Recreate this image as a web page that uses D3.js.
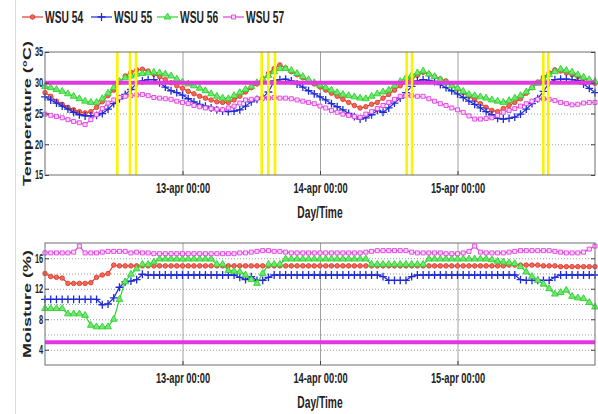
<!DOCTYPE html>
<html>
<head>
<meta charset="utf-8">
<script src="https://cdn.jsdelivr.net/npm/d3@7"></script>
<style>
  html, body { margin: 0; padding: 0; background: #fff; }
  svg { display: block; font-family: "Liberation Sans", Arial, sans-serif; font-weight: bold; }
</style>
</head>
<body>
<div id="app"></div>
<script>
// --- data (hourly readings, 12-apr 00:00 .. 16-apr 00:00) ---
const startTime = new Date(2014, 3, 12, 0, 0)
const endTime = new Date(2014, 3, 16, 0, 0)
const sensorNames = ['WSU 54', 'WSU 55', 'WSU 56', 'WSU 57']

const tempWsu54 = [
  28.4, 27.8, 27.0, 26.5, 26.0, 25.6, 25.3, 25.1, 25.3, 26.0, 26.9, 27.9,
  28.8, 30.1, 31.1, 31.7, 32.1, 32.2, 31.9, 31.4, 31.0, 30.5, 30.0, 29.5,
  29.1, 28.6, 28.2, 27.8, 27.5, 27.2, 26.9, 26.8, 26.8, 27.2, 27.8, 28.5,
  29.2, 29.8, 30.6, 31.5, 32.3, 32.9, 32.4, 31.8, 31.3, 30.8, 30.3, 29.8,
  29.3, 28.8, 28.3, 27.8, 27.3, 26.8, 26.3, 25.9, 26.1, 26.5, 26.8, 27.5,
  28.1, 28.8, 29.5, 30.1, 30.7, 31.2, 31.7, 31.4, 31.0, 30.6, 30.3, 29.7,
  29.0, 28.4, 27.8, 27.2, 26.6, 26.0, 25.5, 25.3, 25.8, 26.3, 26.8, 27.4,
  28.3, 29.2, 30.1, 30.9, 31.6, 32.1, 31.9, 31.6, 31.3, 31.0, 30.7, 30.3,
  29.9
]
const tempWsu55 = [
  27.7, 27.2, 26.7, 26.2, 25.7, 25.2, 24.8, 24.6, 24.6, 24.7, 25.0, 25.7,
  26.6, 27.4, 28.1, 28.9, 29.9, 30.3, 30.5, 30.5, 30.0, 29.3, 28.7, 28.4,
  28.0, 27.4, 26.9, 26.5, 26.2, 25.9, 25.6, 25.4, 25.3, 25.4, 25.6, 26.2,
  26.9, 27.3, 27.6, 28.5, 30.3, 30.5, 30.6, 30.3, 29.8, 29.3, 28.7, 28.2,
  27.7, 27.2, 26.6, 26.1, 25.6, 25.0, 24.5, 24.1, 24.3, 24.8, 25.5, 25.2,
  25.9, 26.7, 27.5, 28.4, 29.4, 30.3, 30.5, 30.4, 30.2, 29.7, 29.2, 28.7,
  28.2, 27.6, 27.0, 26.5, 25.9, 25.3, 24.8, 24.2, 24.1, 24.2, 24.4, 24.9,
  25.7, 26.6, 27.4, 28.6, 30.0, 30.5, 30.6, 30.6, 30.5, 30.4, 29.8, 29.1,
  28.4
]
const tempWsu56 = [
  29.4, 29.2, 28.9, 28.6, 28.2, 27.8, 27.4, 27.0, 26.8, 26.8, 27.4, 28.3,
  29.2, 30.2, 30.8, 31.1, 31.4, 31.5, 31.6, 31.7, 31.6, 31.4, 31.1, 30.6,
  30.1, 29.8, 29.5, 29.1, 28.7, 28.2, 27.8, 27.5, 27.4, 27.9, 28.4, 28.9,
  29.4, 30.0, 30.6, 31.2, 31.8, 32.3, 32.3, 32.0, 31.5, 31.0, 30.5, 30.0,
  29.6, 29.2, 28.8, 28.4, 28.1, 27.9, 27.7, 27.5, 27.4, 27.8, 28.2, 28.5,
  28.8, 29.5, 30.2, 30.8, 31.2, 31.6, 31.9, 31.4, 31.0, 30.5, 30.0, 29.5,
  29.1, 28.6, 28.1, 27.9, 27.7, 27.5, 27.2, 27.0, 26.8, 27.1, 27.5, 27.9,
  28.5, 29.2, 29.9, 30.6, 31.3, 31.8, 32.2, 32.0, 31.7, 31.3, 30.9, 30.5,
  30.2
]
const tempWsu57 = [
  24.9, 24.7, 24.5, 24.3, 24.0, 23.7, 23.5, 23.2, 24.0, 24.8, 25.8, 26.7,
  27.2, 27.6, 27.8, 27.9, 28.0, 28.1, 27.9, 27.6, 27.5, 27.4, 27.3, 27.0,
  26.8, 26.6, 26.3, 26.1, 25.9, 25.8, 25.7, 25.6, 25.9, 26.2, 26.7, 27.2,
  27.3, 27.4, 27.5, 27.5, 27.6, 27.5, 27.5, 27.4, 27.2, 27.0, 26.8, 26.6,
  26.2, 25.9, 25.5, 25.2, 24.9, 24.7, 24.5, 24.4, 24.9, 25.3, 25.8, 26.3,
  26.8, 27.3, 27.8, 27.9, 27.9, 27.8, 27.8, 27.4, 27.0, 26.6, 26.3, 25.9,
  25.6, 25.2, 24.6, 24.1, 24.1, 24.2, 24.3, 24.7, 25.2, 25.5, 25.8, 26.2,
  26.6, 27.0, 27.3, 27.4, 27.3, 27.1, 26.8, 26.6, 26.4, 26.5, 26.7, 26.8,
  26.8
]

const moistWsu54 = [
  14.0, 13.6, 13.5, 13.4, 12.7, 12.7, 12.7, 12.7, 12.8, 13.5, 13.8, 14.0,
  15.1, 15.0, 15.0, 15.0, 15.0, 15.0, 15.0, 15.0, 15.0, 15.0, 15.0, 15.0,
  15.0, 15.0, 15.0, 15.0, 15.0, 15.0, 15.0, 15.0, 15.0, 15.0, 15.0, 15.0,
  15.0, 15.0, 15.0, 15.0, 15.0, 15.0, 15.0, 15.0, 15.0, 15.0, 15.0, 15.0,
  15.0, 15.0, 15.0, 15.0, 15.0, 15.0, 15.0, 15.0, 15.0, 15.0, 15.0, 15.0,
  15.0, 15.0, 15.0, 15.0, 15.0, 15.0, 15.0, 15.0, 15.0, 15.0, 15.0, 15.0,
  15.0, 15.0, 15.0, 15.0, 15.0, 15.0, 15.0, 15.0, 15.0, 15.1, 15.1, 15.1,
  15.1, 15.1, 15.1, 15.0, 15.0, 15.0, 14.9, 14.9, 14.9, 14.9, 14.9, 14.9,
  14.9
]
const moistWsu55 = [
  10.6, 10.6, 10.6, 10.6, 10.6, 10.6, 10.6, 10.6, 10.6, 10.6, 9.9, 10.0,
  10.8, 12.2, 12.9, 13.0, 13.2, 13.9, 13.8, 13.8, 13.8, 13.8, 13.8, 13.8,
  13.8, 13.8, 13.8, 13.8, 13.8, 13.8, 13.8, 13.8, 13.8, 13.8, 13.5, 13.2,
  13.6, 13.1, 13.1, 13.5, 13.8, 13.8, 13.8, 13.8, 13.8, 13.8, 13.8, 13.8,
  13.8, 13.8, 13.8, 13.8, 13.8, 13.8, 13.8, 13.8, 13.8, 13.8, 13.8, 13.6,
  13.1, 13.1, 13.1, 13.1, 13.6, 13.8, 13.8, 13.8, 13.8, 13.8, 13.8, 13.8,
  13.8, 13.8, 13.8, 13.8, 13.8, 13.8, 13.8, 13.8, 13.8, 13.8, 13.8, 13.2,
  13.1, 13.1, 13.1, 13.1, 13.1, 13.5, 13.8, 13.8, 13.8, 13.8, 13.8, 13.8,
  13.8
]
const moistWsu56 = [
  9.4, 9.4, 9.4, 9.4, 8.7, 8.7, 8.7, 8.5, 7.2, 7.0, 7.0, 7.0,
  8.0, 10.6, 12.9, 13.9, 14.6, 15.2, 15.2, 15.5, 15.9, 15.9, 15.9, 15.9,
  15.9, 15.9, 15.9, 15.9, 15.9, 15.9, 15.2, 15.2, 14.4, 14.3, 14.2, 13.8,
  13.2, 12.7, 14.0, 15.2, 15.2, 15.2, 15.9, 15.9, 15.9, 15.9, 15.9, 15.9,
  15.9, 15.9, 15.9, 15.9, 15.9, 15.9, 15.9, 15.9, 15.9, 15.2, 15.2, 15.2,
  15.2, 15.2, 15.2, 15.2, 15.2, 15.2, 15.2, 15.9, 15.9, 15.9, 15.9, 15.9,
  15.9, 15.9, 15.9, 15.9, 15.9, 15.9, 15.8, 15.6, 15.5, 15.4, 15.3, 14.9,
  14.2, 13.6, 13.1, 12.6, 12.0, 11.3, 11.5, 11.8, 11.0, 10.8, 10.7, 10.2,
  9.6
]
const moistWsu57 = [
  16.7, 16.7, 16.7, 16.7, 16.7, 16.8, 17.6, 16.7, 16.7, 16.7, 16.8, 16.9,
  16.9, 16.9, 16.9, 16.7, 16.8, 16.7, 16.7, 16.6, 16.6, 16.6, 16.6, 16.6,
  16.6, 16.6, 16.6, 16.6, 16.6, 16.6, 16.6, 16.6, 16.6, 16.6, 16.7, 16.7,
  16.8, 16.9, 17.0, 17.0, 16.9, 16.9, 16.8, 16.7, 16.7, 16.7, 16.7, 16.7,
  16.7, 16.7, 16.7, 16.7, 16.7, 16.7, 16.7, 16.7, 16.8, 16.9, 17.0, 17.0,
  17.0, 17.0, 17.0, 17.0, 16.8, 16.7, 16.7, 16.7, 16.7, 16.7, 16.6, 16.6,
  16.6, 16.7, 16.9, 17.6, 16.8, 16.7, 16.7, 16.7, 16.7, 16.8, 16.9, 17.0,
  17.0, 17.0, 17.0, 17.0, 17.0, 16.9, 16.8, 16.7, 16.7, 16.7, 16.8, 17.2,
  17.6
]

const dayTicks = ['2014-04-13 00:00', '2014-04-14 00:00', '2014-04-15 00:00']
const dayTickLabels = ['13-apr 00:00', '14-apr 00:00', '15-apr 00:00']
const tempTicks = [15, 20, 25, 30, 35]
const tempGrid = [20, 25, 30]
const moistTicks = [4, 8, 12, 16]
const moistGrid = [4, 6, 8, 10, 12, 14, 16]
const tempLimit = 30
const moistLimit = 5
// yellow marks on the temperature panel
const eventTimes = [
  '2014-04-12 12:37', '2014-04-12 14:50', '2014-04-12 15:53',
  '2014-04-13 13:49', '2014-04-13 14:59', '2014-04-13 16:09',
  '2014-04-14 15:08', '2014-04-14 16:04',
  '2014-04-15 14:59', '2014-04-15 15:51'
]

// --- setup ---
const W = 598, H = 414
const SX = 0.62 // the reference is squeezed horizontally
const parseTime = d3.timeParse('%Y-%m-%d %H:%M')
const times = d3.timeHour.range(startTime, d3.timeHour.offset(endTime, 1))

const colors = ['#e23a2c', '#1f2bd4', '#2fd12f', '#e03fe0']
const fills = ['#f06a5a', '#1f2bd4', '#6ee86e', '#fbd8fb']
const symbols = [d3.symbolCircle, d3.symbolPlus || d3.symbolCross, d3.symbolTriangle, d3.symbolSquare]
const symSizes = [16, 22, 20, 16]

const svg = d3.select('#app').append('svg').attr('width', W).attr('height', H)
svg.append('rect').attr('width', W).attr('height', H).attr('fill', '#fff')
svg.append('line').attr('x1', 15.5).attr('x2', 15.5).attr('y1', 0).attr('y2', H)
  .attr('stroke', '#dcdcdc')

const x = d3.scaleTime().domain([startTime, endTime]).range([45, 595])

function squeezed(g, tx, ty, str, size, anchor, rotate) {
  return g.append('text')
    .attr('transform', `translate(${tx},${ty}) scale(${SX},1)` + (rotate ? ' rotate(-90)' : ''))
    .attr('text-anchor', anchor)
    .attr('font-size', size)
    .attr('fill', '#222')
    .text(str)
}

function marker(sel, i) {
  const sym = d3.symbol().type(symbols[i]).size(symSizes[i])
  sel.attr('d', sym)
  if (i === 1) sel.attr('fill', 'none').attr('stroke', colors[i]).attr('stroke-width', 1.3)
  else sel.attr('fill', fills[i]).attr('stroke', colors[i]).attr('stroke-width', 0.9)
}

function panel(top, bottom, yDomain, yTicks, yGrid, series, limit, title, events) {
  const y = d3.scaleLinear().domain(yDomain).range([bottom, top])
  const g = svg.append('g')
  const left = x.range()[0], right = x.range()[1]

  // dotted horizontal grid
  g.append('g')
    .attr('transform', `translate(${left},0)`)
    .call(d3.axisLeft(y).tickValues(yGrid).tickSize(-(right - left)).tickFormat(''))
    .call(a => a.select('.domain').remove())
    .call(a => a.selectAll('line').attr('stroke', '#9a9a9a').attr('stroke-dasharray', '1,2'))

  // solid vertical grid at day ticks
  g.append('g')
    .attr('transform', `translate(0,${bottom})`)
    .call(d3.axisBottom(x).tickValues(dayTicks.map(parseTime)).tickSize(-(bottom - top)).tickFormat(''))
    .call(a => a.select('.domain').remove())
    .call(a => a.selectAll('line').attr('stroke', '#a0a0a0'))

  // series
  series.forEach((vals, i) => {
    const pts = vals.map((v, k) => [times[k], v])
    g.append('path')
      .datum(pts)
      .attr('fill', 'none')
      .attr('stroke', colors[i])
      .attr('stroke-width', 1.2)
      .attr('d', d3.line().x(d => x(d[0])).y(d => y(d[1])))
    g.append('g').selectAll('path')
      .data(pts)
      .join('path')
      .attr('transform', d => `translate(${x(d[0])},${y(d[1])})`)
      .call(marker, i)
  })

  // threshold
  g.append('line')
    .attr('x1', left).attr('x2', right)
    .attr('y1', y(limit)).attr('y2', y(limit))
    .attr('stroke', '#e236e2').attr('stroke-width', 4)

  // event marks
  g.append('g').selectAll('line')
    .data(events.map(parseTime))
    .join('line')
    .attr('x1', d => x(d)).attr('x2', d => x(d))
    .attr('y1', top).attr('y2', bottom)
    .attr('stroke', '#fbf300').attr('stroke-width', 2.6)

  // box + axes
  g.append('rect')
    .attr('x', left).attr('y', top).attr('width', right - left).attr('height', bottom - top)
    .attr('fill', 'none').attr('stroke', '#6e6e6e')

  const yAxis = g.append('g')
    .attr('transform', `translate(${left},0)`)
    .call(d3.axisLeft(y).tickValues(yTicks).tickSize(-4).tickPadding(3))
  yAxis.select('.domain').remove()
  yAxis.selectAll('line').attr('stroke', '#444')
  yAxis.selectAll('text')
    .attr('font-size', 12).attr('font-family', null).attr('fill', '#222')
    .attr('transform', `scale(${SX},1)`)

  g.append('g')
    .attr('transform', `translate(${right},0)`)
    .call(d3.axisRight(y).tickValues(yTicks).tickSize(-4).tickFormat(''))
    .call(a => a.select('.domain').remove())
    .call(a => a.selectAll('line').attr('stroke', '#444'))

  const xAxis = g.append('g')
    .attr('transform', `translate(0,${bottom})`)
    .call(d3.axisBottom(x).tickValues(dayTicks.map(parseTime)).tickSize(-4)
      .tickFormat((d, k) => dayTickLabels[k]))
  xAxis.select('.domain').remove()
  xAxis.selectAll('line').attr('stroke', '#444')
  xAxis.selectAll('text')
    .attr('font-size', 15).attr('font-family', null).attr('fill', '#222')
    .attr('y', 18).attr('dy', 0)
    .attr('transform', `scale(${SX},1)`)

  squeezed(g, (left + right) / 2, bottom + 43, 'Day/Time', 16.5, 'middle')
  squeezed(g, 31, (top + bottom) / 2, title, 18, 'middle', true)
}

panel(52, 175, [15, 35], tempTicks, tempGrid,
  [tempWsu54, tempWsu55, tempWsu56, tempWsu57], tempLimit, 'Temperature (°C)', eventTimes)
panel(243, 365, [2, 18], moistTicks, moistGrid,
  [moistWsu54, moistWsu55, moistWsu56, moistWsu57], moistLimit, 'Moisture (%)', [])

// legend
const legendX = [22, 91, 157, 223]
const legend = svg.append('g')
sensorNames.forEach((name, i) => {
  const lx = legendX[i]
  legend.append('line')
    .attr('x1', lx).attr('x2', lx + 21).attr('y1', 17).attr('y2', 17)
    .attr('stroke', colors[i]).attr('stroke-width', 1.2)
  legend.append('path')
    .attr('transform', `translate(${lx + 10.5},17)`)
    .call(marker, i)
  squeezed(legend, lx + 23, 23, name, 16.5, 'start')
})
</script>
</body>
</html>
